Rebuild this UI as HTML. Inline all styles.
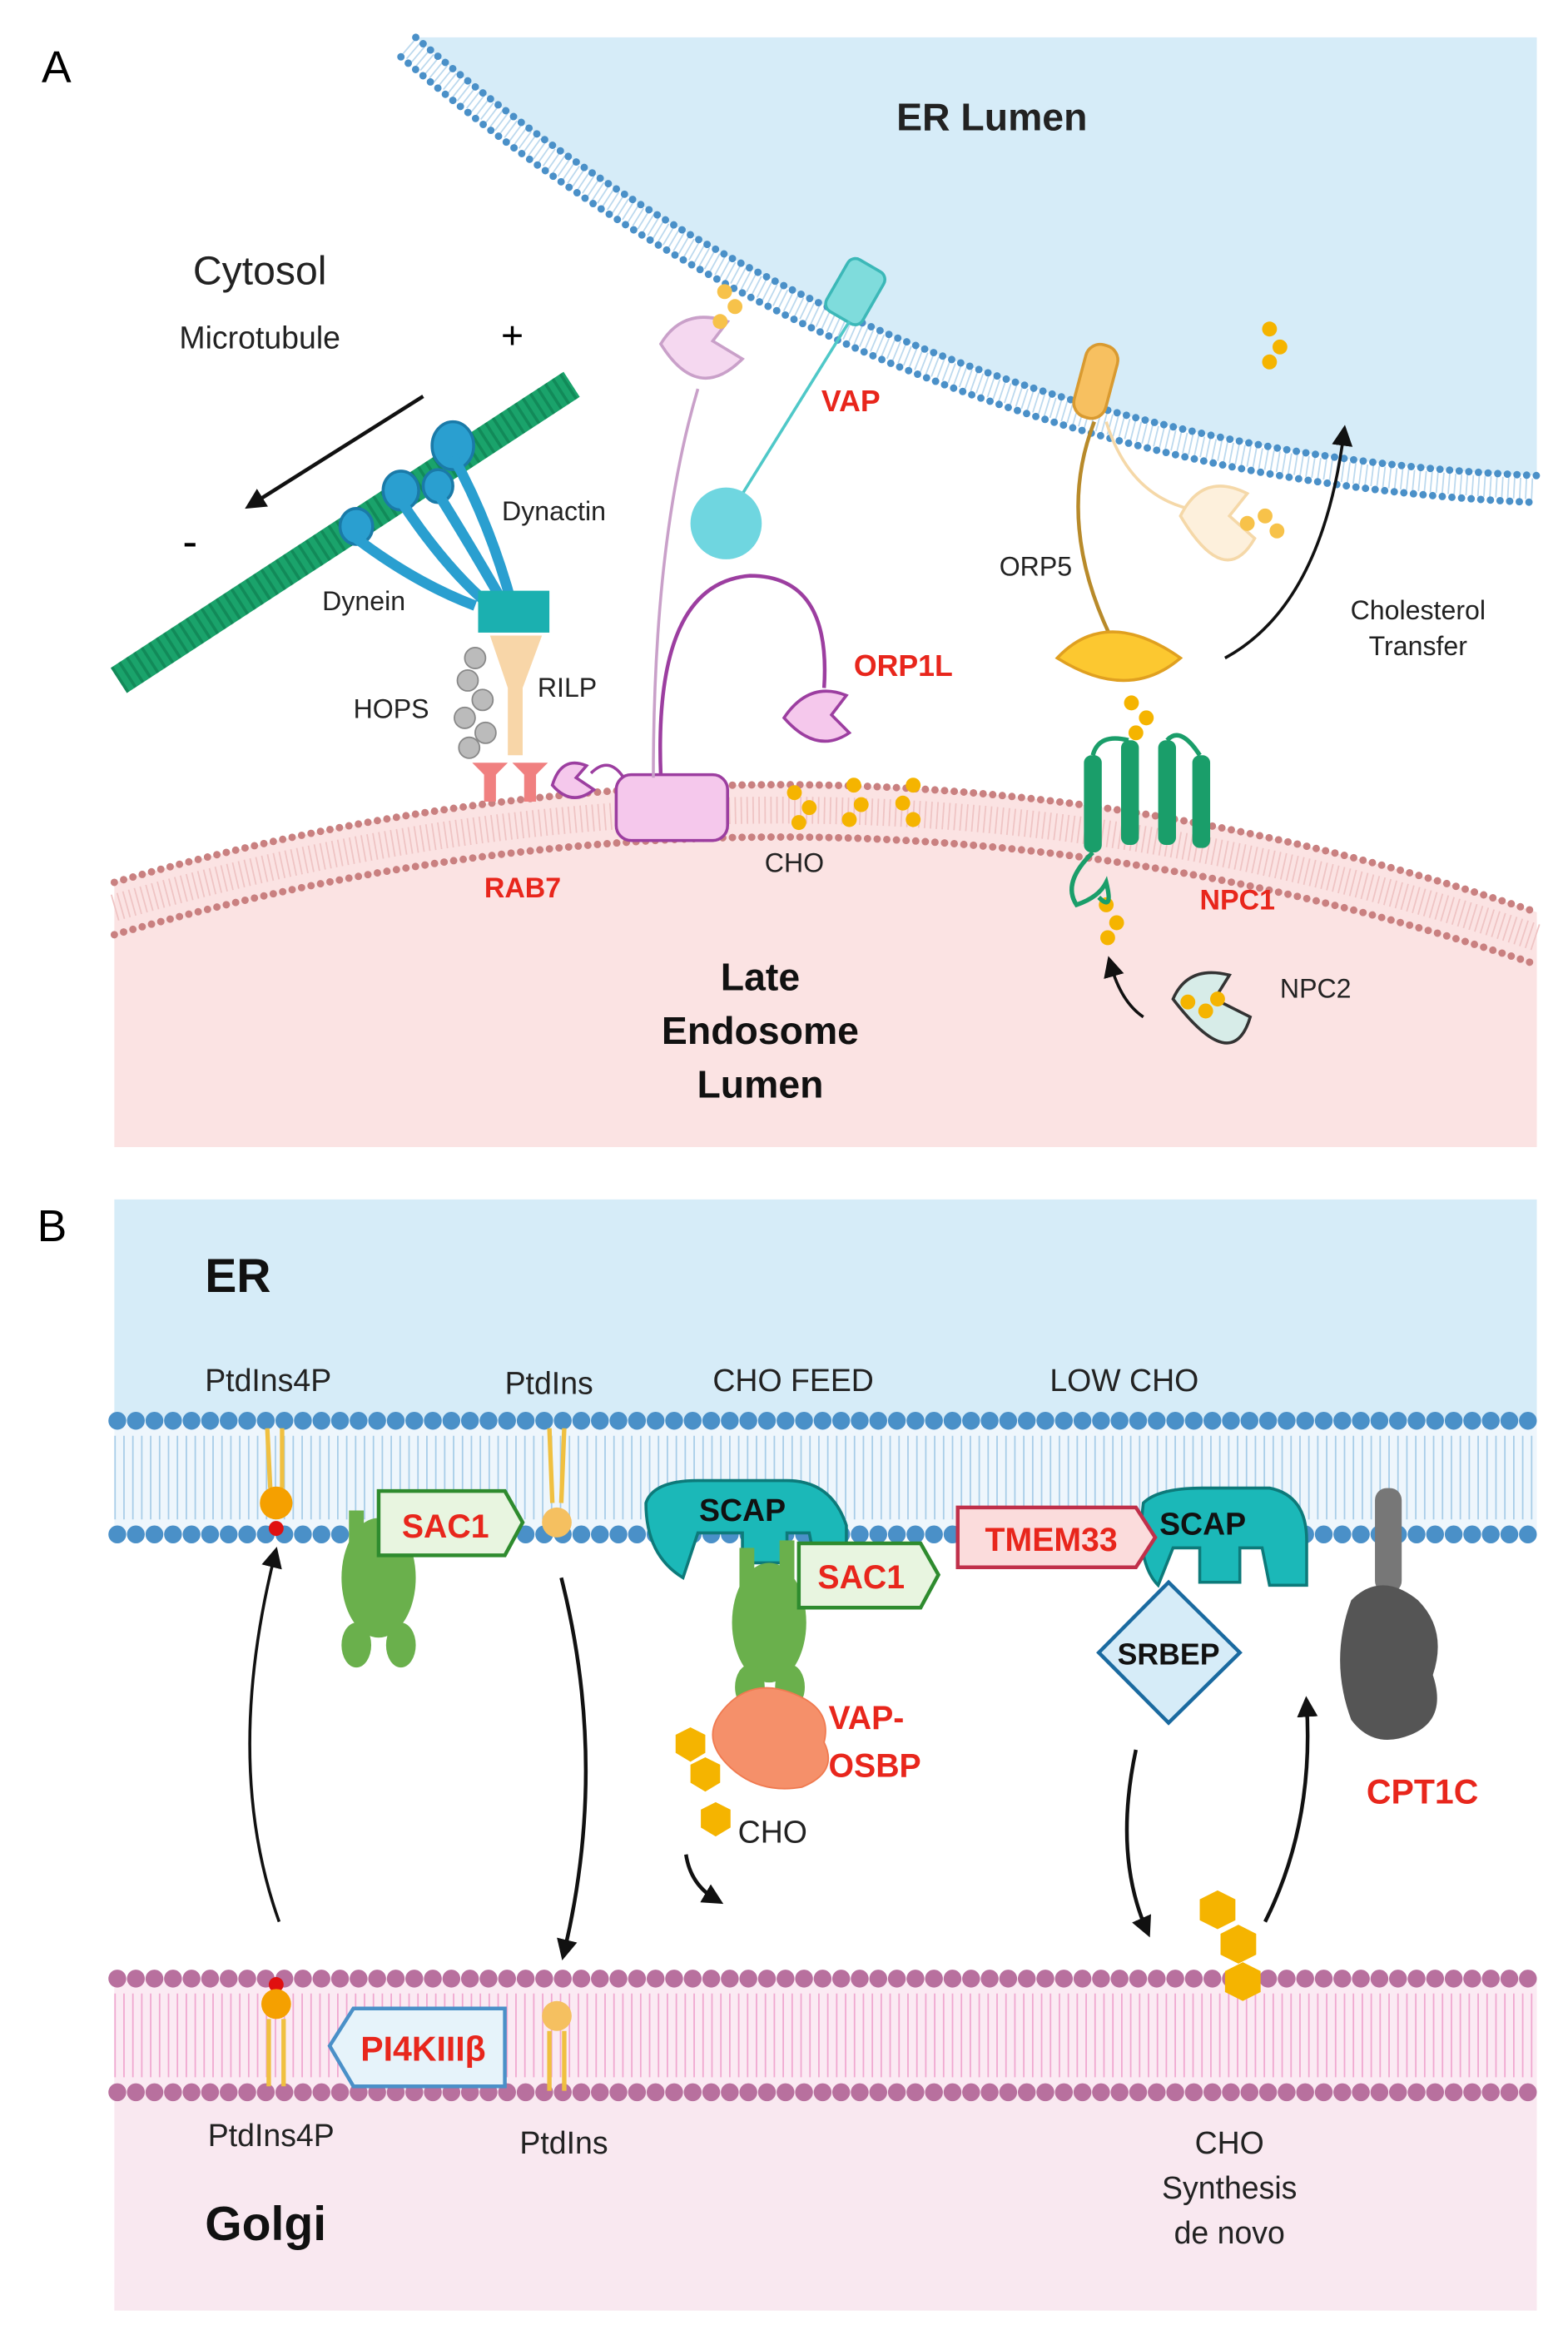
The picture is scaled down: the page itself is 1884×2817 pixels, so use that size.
<!DOCTYPE html>
<html><head><meta charset="utf-8">
<style>html,body{margin:0;padding:0;background:#fff}svg{display:block}</style></head>
<body>
<svg width="1884" height="2817" viewBox="0 0 1056 1568" preserveAspectRatio="none" xmlns="http://www.w3.org/2000/svg" font-family="Liberation Sans, sans-serif">
<defs>
<marker id="ah" markerUnits="userSpaceOnUse" markerWidth="14" markerHeight="14" refX="8" refY="7" orient="auto"><path d="M0,0 L14,7 L0,14 z" fill="#111"/></marker>
</defs>
<!-- Panel A -->
<text x="28" y="55" font-size="30">A</text>
<path d="M280 25 Q600 300 1035 318 L1035 25 Z" fill="#d6ecf8"/>
<path d="M275 31 Q598 309 1035 327" fill="none" stroke="#bcd9ee" stroke-width="14" stroke-dasharray="1 3"/>
<path d="M280 25 Q600 300 1035 318" fill="none" stroke="#4a90c8" stroke-width="5" stroke-linecap="round" stroke-dasharray="0 6.5"/>
<path d="M270 38 Q595 318 1035 336" fill="none" stroke="#4a90c8" stroke-width="5" stroke-linecap="round" stroke-dasharray="0 6.5"/>
<path d="M77 590 Q560 450 1035 610 L1035 767 L77 767 Z" fill="#fbe3e3"/>
<path d="M77 607 Q560 467 1035 627" fill="none" stroke="#efc4c4" stroke-width="18" stroke-dasharray="1 3"/>
<path d="M77 590 Q560 450 1035 610" fill="none" stroke="#c98080" stroke-width="5" stroke-linecap="round" stroke-dasharray="0 6.5"/>
<path d="M77 625 Q560 485 1035 645" fill="none" stroke="#c98080" stroke-width="5" stroke-linecap="round" stroke-dasharray="0 6.5"/>
<text x="668" y="87" font-size="26" font-weight="bold" text-anchor="middle" fill="#222">ER Lumen</text>
<text x="175" y="190" font-size="27" text-anchor="middle" fill="#222">Cytosol</text>
<text x="175" y="233" font-size="21" text-anchor="middle" fill="#222">Microtubule</text>
<text x="345" y="233" font-size="26" text-anchor="middle">+</text>
<text x="128" y="372" font-size="30" text-anchor="middle">-</text>
<line x1="285" y1="265" x2="170" y2="337" stroke="#111" stroke-width="2.5" marker-end="url(#ah)"/>
<!-- microtubule -->
<line x1="80" y1="455" x2="385" y2="257" stroke="#1aa36b" stroke-width="20"/>
<line x1="80" y1="455" x2="385" y2="257" stroke="#0d7a4e" stroke-width="20" stroke-dasharray="2 4" opacity="0.6"/>
<!-- dynein/dynactin -->
<g fill="#2a9fd0" stroke="#1a7aa8" stroke-width="2">
<ellipse cx="305" cy="298" rx="14" ry="16"/><ellipse cx="270" cy="328" rx="12" ry="13"/><ellipse cx="240" cy="352" rx="11" ry="12"/><ellipse cx="295" cy="325" rx="10" ry="11"/>
</g>
<path d="M305 305 Q330 350 345 405 M295 330 Q320 370 340 405 M270 335 Q300 380 330 405 M240 360 Q280 390 320 405" stroke="#2a9fd0" stroke-width="7" fill="none"/>
<rect x="322" y="395" width="48" height="28" fill="#1bb0b0"/>
<text x="338" y="348" font-size="18" fill="#222">Dynactin</text>
<text x="217" y="408" font-size="18" fill="#222">Dynein</text>
<path d="M330 425 L365 425 L352 460 L352 505 L342 505 L342 460 Z" fill="#f8d6a8"/>
<g fill="#bbb" stroke="#888"><circle cx="320" cy="440" r="7"/><circle cx="315" cy="455" r="7"/><circle cx="325" cy="468" r="7"/><circle cx="313" cy="480" r="7"/><circle cx="327" cy="490" r="7"/><circle cx="316" cy="500" r="7"/></g>
<text x="238" y="480" font-size="18" fill="#222">HOPS</text>
<text x="362" y="466" font-size="18" fill="#222">RILP</text>
<path d="M318 510 h24 l-8 8 v18 h-8 v-18 z M345 510 h24 l-8 8 v18 h-8 v-18 z" fill="#f08080"/>
<text x="352" y="600" font-size="19" font-weight="bold" fill="#e8261c" text-anchor="middle">RAB7</text>
<!-- ORP1L -->
<path d="M372 525 Q378 505 395 512 L388 520 L400 528 Q385 540 372 525 Z" fill="#f5c8ec" stroke="#9c3ea0" stroke-width="2"/>
<path d="M398 517 Q410 505 420 520" fill="none" stroke="#9c3ea0" stroke-width="2"/>
<rect x="415" y="518" width="75" height="44" rx="10" fill="#f5c8ec" stroke="#9c3ea0" stroke-width="2"/>
<path d="M445 518 Q440 390 505 385 Q560 385 555 460" fill="none" stroke="#9c3ea0" stroke-width="2.5"/>
<path d="M528 480 Q545 455 570 465 L560 478 L572 490 Q550 505 528 480 Z" fill="#f5c8ec" stroke="#9c3ea0" stroke-width="2"/>
<text x="575" y="452" font-size="20" font-weight="bold" fill="#e8261c">ORP1L</text>
<path d="M445 230 Q460 205 490 215 L480 228 L500 240 Q470 270 445 230 Z" fill="#f5d8f0" stroke="#c9a0c9" stroke-width="2"/>
<path d="M470 260 Q440 360 440 520" fill="none" stroke="#c9a0c9" stroke-width="2"/>
<g fill="#f7c24a"><circle cx="485" cy="215" r="5"/><circle cx="495" cy="205" r="5"/><circle cx="488" cy="195" r="5"/></g>
<text x="535" y="583" font-size="18" fill="#222" text-anchor="middle">CHO</text>
<g fill="#f5b400"><circle cx="535" cy="530" r="5"/><circle cx="545" cy="540" r="5"/><circle cx="538" cy="550" r="5"/><circle cx="575" cy="525" r="5"/><circle cx="580" cy="538" r="5"/><circle cx="572" cy="548" r="5"/><circle cx="615" cy="525" r="5"/><circle cx="608" cy="537" r="5"/><circle cx="615" cy="548" r="5"/></g>
<!-- VAP -->
<rect x="562" y="175" width="28" height="40" rx="6" fill="#7fdcdc" stroke="#3cb8b8" stroke-width="2" transform="rotate(30 576 195)"/>
<line x1="572" y1="215" x2="497" y2="335" stroke="#4fc8c8" stroke-width="2"/>
<circle cx="489" cy="350" r="24" fill="#6fd6e0"/>
<text x="573" y="275" font-size="20" font-weight="bold" fill="#e8261c" text-anchor="middle">VAP</text>
<!-- ORP5 -->
<rect x="727" y="230" width="22" height="50" rx="10" fill="#f7c060" stroke="#d99a30" stroke-width="2" transform="rotate(15 738 255)"/>
<path d="M737 282 Q710 350 750 430" fill="none" stroke="#b88a2a" stroke-width="2.5"/>
<path d="M745 282 Q760 330 800 340" fill="none" stroke="#f5d8a8" stroke-width="2"/>
<path d="M795 345 Q810 315 840 330 L828 345 L845 360 Q825 395 795 345 Z" fill="#fdf0dc" stroke="#f5d8a8" stroke-width="2"/>
<g fill="#f7c24a"><circle cx="840" cy="350" r="5"/><circle cx="852" cy="345" r="5"/><circle cx="860" cy="355" r="5"/></g>
<path d="M712 440 Q745 405 795 440 Q760 470 712 440 Z" fill="#fcc830" stroke="#e0a020" stroke-width="2"/>
<text x="673" y="385" font-size="18" fill="#222">ORP5</text>
<path d="M825 440 Q890 405 905 290" fill="none" stroke="#111" stroke-width="2" marker-end="url(#ah)"/>
<text x="955" y="414" font-size="18" fill="#222" text-anchor="middle">Cholesterol</text>
<text x="955" y="438" font-size="18" fill="#222" text-anchor="middle">Transfer</text>
<g fill="#f5b400"><circle cx="855" cy="220" r="5"/><circle cx="862" cy="232" r="5"/><circle cx="855" cy="242" r="5"/><circle cx="762" cy="470" r="5"/><circle cx="772" cy="480" r="5"/><circle cx="765" cy="490" r="5"/><circle cx="745" cy="605" r="5"/><circle cx="752" cy="617" r="5"/><circle cx="746" cy="627" r="5"/></g>
<!-- NPC1 -->
<g fill="#1a9e6a"><rect x="730" y="505" width="12" height="65" rx="5"/><rect x="755" y="495" width="12" height="70" rx="5"/><rect x="780" y="495" width="12" height="70" rx="5"/><rect x="803" y="505" width="12" height="62" rx="5"/></g>
<path d="M736 570 Q715 590 725 605 Q740 600 745 590 Q750 610 740 600" fill="none" stroke="#1a9e6a" stroke-width="3"/>
<path d="M736 505 Q740 490 760 495 M786 495 Q795 485 808 505" fill="none" stroke="#1a9e6a" stroke-width="3"/>
<text x="808" y="608" font-size="19" font-weight="bold" fill="#e8261c">NPC1</text>
<path d="M790 668 Q800 645 828 652 L818 668 L842 680 Q830 720 790 668 Z" fill="#d7ece8" stroke="#333" stroke-width="2"/>
<g fill="#f5b400"><circle cx="800" cy="670" r="5"/><circle cx="812" cy="676" r="5"/><circle cx="820" cy="668" r="5"/></g>
<text x="862" y="667" font-size="18" fill="#222">NPC2</text>
<path d="M770 680 Q755 670 748 645" fill="none" stroke="#111" stroke-width="2" marker-end="url(#ah)"/>
<text x="512" y="662" font-size="26" font-weight="bold" text-anchor="middle" fill="#111">Late</text>
<text x="512" y="698" font-size="26" font-weight="bold" text-anchor="middle" fill="#111">Endosome</text>
<text x="512" y="734" font-size="26" font-weight="bold" text-anchor="middle" fill="#111">Lumen</text>

<!-- Panel B -->
<text x="25" y="830" font-size="30">B</text>
<rect x="77" y="802" width="958" height="148" fill="#d6ecf8"/>
<rect x="77" y="950" width="958" height="76" fill="#eef6fc"/>
<line x1="77" y1="988" x2="1035" y2="988" stroke="#a8cde8" stroke-width="56" stroke-dasharray="1 5"/>
<line x1="79" y1="950" x2="1035" y2="950" stroke="#4a90c8" stroke-width="12" stroke-linecap="round" stroke-dasharray="0 12.5"/>
<line x1="79" y1="1026" x2="1035" y2="1026" stroke="#4a90c8" stroke-width="12" stroke-linecap="round" stroke-dasharray="0 12.5"/>
<rect x="77" y="1323" width="958" height="222" fill="#f9e8f0"/>
<rect x="77" y="1323" width="958" height="76" fill="#fbeaf3"/>
<line x1="77" y1="1361" x2="1035" y2="1361" stroke="#f0a8d0" stroke-width="56" stroke-dasharray="1 5"/>
<line x1="79" y1="1323" x2="1035" y2="1323" stroke="#b8709e" stroke-width="12" stroke-linecap="round" stroke-dasharray="0 12.5"/>
<line x1="79" y1="1399" x2="1035" y2="1399" stroke="#b8709e" stroke-width="12" stroke-linecap="round" stroke-dasharray="0 12.5"/>
<text x="138" y="864" font-size="32" font-weight="bold" fill="#111">ER</text>
<text x="138" y="930" font-size="21" fill="#222">PtdIns4P</text>
<text x="340" y="932" font-size="21" fill="#222">PtdIns</text>
<text x="480" y="930" font-size="21" fill="#222">CHO FEED</text>
<text x="707" y="930" font-size="21" fill="#222">LOW CHO</text>
<!-- lipids ER -->
<path d="M180 955 L182 995 M190 955 L190 995" stroke="#f0c040" stroke-width="3"/>
<circle cx="186" cy="1005" r="11" fill="#f5a000"/><circle cx="186" cy="1022" r="5" fill="#e01010"/>
<path d="M370 955 L372 1005 M380 955 L378 1005" stroke="#f0c040" stroke-width="3"/>
<circle cx="375" cy="1018" r="10" fill="#f5c060"/>
<!-- SAC1 green -->
<g fill="#6ab04c"><ellipse cx="255" cy="1055" rx="25" ry="40"/><rect x="235" y="1010" width="10" height="50"/><rect x="260" y="1005" width="10" height="55"/><ellipse cx="240" cy="1100" rx="10" ry="15"/><ellipse cx="270" cy="1100" rx="10" ry="15"/></g>
<path d="M255 997 H340 L352 1018 L340 1040 H255 Z" fill="#e8f5e0" stroke="#2e8b2e" stroke-width="2.5"/>
<text x="300" y="1028" font-size="22" font-weight="bold" fill="#e8261c" text-anchor="middle">SAC1</text>
<!-- SCAP 1 -->
<path d="M435 1005 Q440 990 470 990 H530 Q560 990 570 1020 V1050 H550 L545 1025 H530 V1045 H500 V1025 H470 L460 1055 Q435 1040 435 1005 Z" fill="#1bb8b8" stroke="#0d7a7a" stroke-width="2"/>
<text x="500" y="1017" font-size="21" font-weight="bold" fill="#111" text-anchor="middle">SCAP</text>
<g fill="#6ab04c"><ellipse cx="518" cy="1085" rx="25" ry="40"/><rect x="498" y="1035" width="10" height="50"/><rect x="525" y="1030" width="10" height="55"/><ellipse cx="505" cy="1128" rx="10" ry="15"/><ellipse cx="532" cy="1128" rx="10" ry="15"/></g>
<path d="M538 1032 H620 L632 1053 L620 1075 H538 Z" fill="#e8f5e0" stroke="#2e8b2e" stroke-width="2.5"/>
<text x="580" y="1062" font-size="22" font-weight="bold" fill="#e8261c" text-anchor="middle">SAC1</text>
<path d="M490 1140 Q510 1120 540 1135 Q560 1145 555 1165 Q565 1185 540 1195 Q510 1200 490 1180 Q470 1160 490 1140 Z" fill="#f5906a" stroke="#f07a50"/>
<text x="558" y="1156" font-size="22" font-weight="bold" fill="#e8261c">VAP-</text>
<text x="558" y="1188" font-size="22" font-weight="bold" fill="#e8261c">OSBP</text>
<g fill="#f5b400"><polygon points="455,1160 465,1155 475,1160 475,1172 465,1178 455,1172"/><polygon points="465,1180 475,1175 485,1180 485,1192 475,1198 465,1192"/><polygon points="472,1210 482,1205 492,1210 492,1222 482,1228 472,1222"/></g>
<text x="497" y="1232" font-size="21" fill="#222">CHO</text>
<path d="M462 1240 Q465 1260 482 1270" fill="none" stroke="#111" stroke-width="2.5" marker-end="url(#ah)"/>
<!-- TMEM33 / SCAP 2 -->
<path d="M770 1005 Q780 995 810 995 H855 Q880 1000 880 1030 V1060 H855 L850 1035 H835 V1058 H808 V1035 H790 L780 1060 Q765 1045 770 1005 Z" fill="#1bb8b8" stroke="#0d7a7a" stroke-width="2"/>
<text x="810" y="1026" font-size="21" font-weight="bold" fill="#111" text-anchor="middle">SCAP</text>
<path d="M645 1008 H765 L778 1028 L765 1048 H645 Z" fill="#fbdcdc" stroke="#c0304a" stroke-width="2.5"/>
<text x="708" y="1037" font-size="22" font-weight="bold" fill="#e8261c" text-anchor="middle">TMEM33</text>
<path d="M787 1058 L835 1105 L787 1152 L740 1105 Z" fill="#d6ecf8" stroke="#1a6aa0" stroke-width="2.5"/>
<text x="787" y="1113" font-size="20" font-weight="bold" fill="#111" text-anchor="middle">SRBEP</text>
<!-- CPT1C -->
<rect x="926" y="995" width="18" height="70" rx="8" fill="#777"/>
<path d="M910 1070 Q930 1050 955 1070 Q975 1090 965 1120 Q975 1150 950 1160 Q925 1170 910 1150 Q895 1110 910 1070 Z" fill="#555"/>
<text x="958" y="1206" font-size="23" font-weight="bold" fill="#e8261c" text-anchor="middle">CPT1C</text>
<!-- arrows B -->
<path d="M188 1285 Q150 1180 185 1040" fill="none" stroke="#111" stroke-width="2" marker-end="url(#ah)"/>
<path d="M378 1055 Q410 1180 380 1305" fill="none" stroke="#111" stroke-width="2.5" marker-end="url(#ah)"/>
<path d="M765 1170 Q750 1240 772 1290" fill="none" stroke="#111" stroke-width="2.5" marker-end="url(#ah)"/>
<path d="M852 1285 Q885 1220 880 1140" fill="none" stroke="#111" stroke-width="2.5" marker-end="url(#ah)"/>
<g fill="#f5b400"><polygon points="808,1270 820,1264 832,1270 832,1284 820,1290 808,1284"/><polygon points="822,1293 834,1287 846,1293 846,1307 834,1313 822,1307"/><polygon points="825,1318 837,1312 849,1318 849,1332 837,1338 825,1332"/></g>
<!-- golgi lipids -->
<circle cx="186" cy="1327" r="5" fill="#e01010"/><circle cx="186" cy="1340" r="10" fill="#f5a000"/>
<path d="M181 1350 V1395 M191 1350 V1395" stroke="#f0c040" stroke-width="3"/>
<circle cx="375" cy="1348" r="10" fill="#f5c060"/>
<path d="M370 1358 V1398 M380 1358 V1398" stroke="#f0c040" stroke-width="3"/>
<path d="M222 1368 L238 1343 H340 V1395 H238 Z" fill="#e6f3fa" stroke="#4a90c8" stroke-width="2.5"/>
<text x="285" y="1378" font-size="23" font-weight="bold" fill="#e8261c" text-anchor="middle">PI4KIIIβ</text>
<text x="140" y="1435" font-size="21" fill="#222">PtdIns4P</text>
<text x="350" y="1440" font-size="21" fill="#222">PtdIns</text>
<text x="828" y="1440" font-size="21" fill="#222" text-anchor="middle">CHO</text>
<text x="828" y="1470" font-size="21" fill="#222" text-anchor="middle">Synthesis</text>
<text x="828" y="1500" font-size="21" fill="#222" text-anchor="middle">de novo</text>
<text x="138" y="1498" font-size="32" font-weight="bold" fill="#111">Golgi</text>
</svg>
</body></html>
